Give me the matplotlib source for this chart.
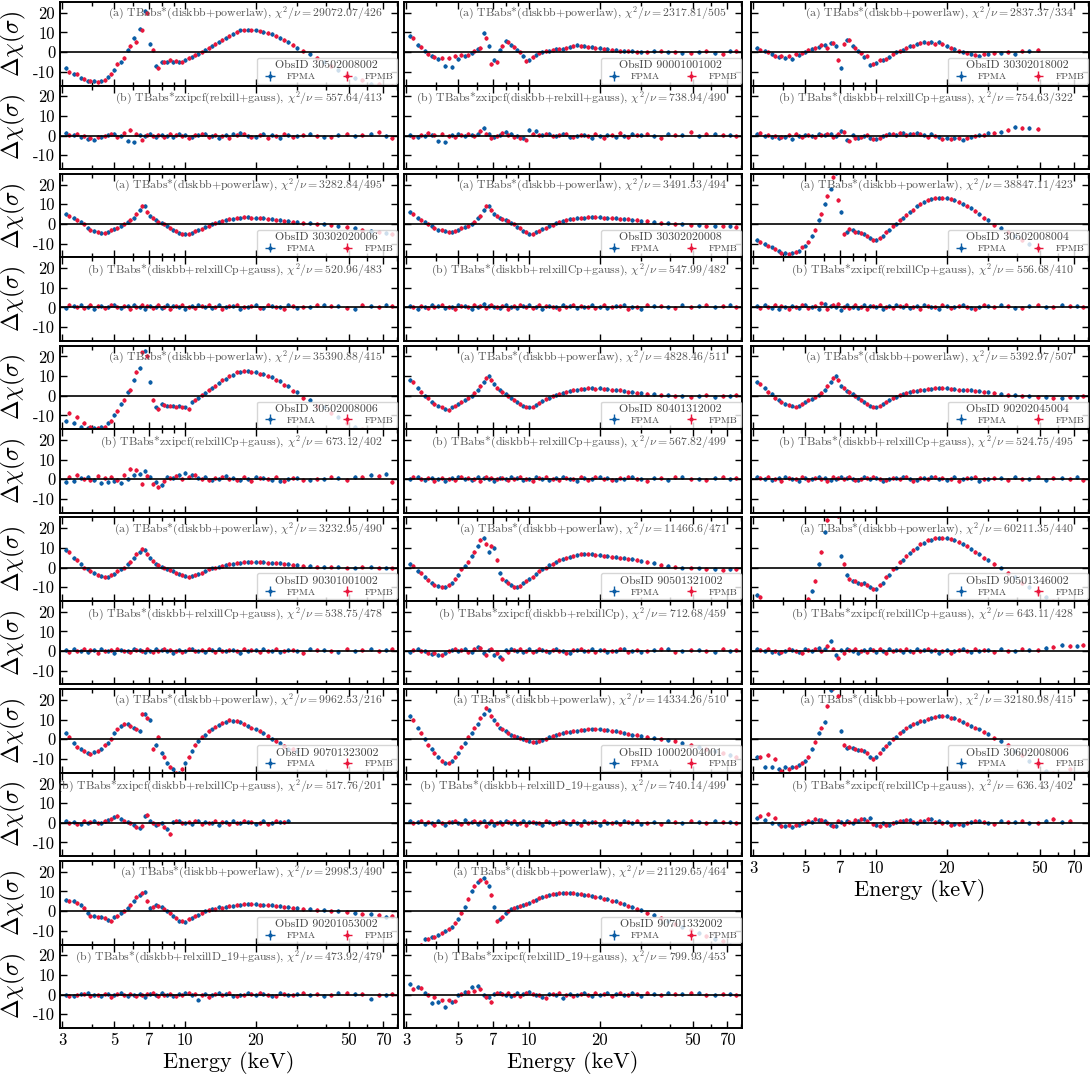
import numpy as np
import matplotlib
matplotlib.use('Agg')
import matplotlib.pyplot as plt
from matplotlib.ticker import FixedLocator, NullFormatter

plt.rcParams['font.family'] = 'serif'
plt.rcParams['font.serif'] = ['cmr10', 'DejaVu Serif']
plt.rcParams['mathtext.fontset'] = 'cm'
plt.rcParams['axes.unicode_minus'] = False

# energy grids (keV) for FPMA and FPMB residual points
energy_A = [3.1, 3.35, 3.6, 3.85, 4.1, 4.4, 4.7, 5.0, 5.35, 5.7, 6.05, 6.4, 6.75, 7.1, 7.5, 7.95,
            8.4, 8.9, 9.45, 10.0, 10.7, 11.4, 12.2, 13.0, 13.9, 14.9, 16.0, 17.2, 18.5, 20.0, 21.6,
            23.4, 25.4, 27.6, 30.0, 34.0, 39.0, 45.0, 53.0, 62.0, 72.0]
energy_B = [3.2, 3.45, 3.7, 3.95, 4.25, 4.55, 4.85, 5.15, 5.5, 5.85, 6.2, 6.55, 6.9, 7.3, 7.7, 8.15,
            8.65, 9.15, 9.7, 10.35, 11.0, 11.8, 12.6, 13.45, 14.4, 15.4, 16.6, 17.8, 19.2, 20.8, 22.5,
            24.4, 26.5, 28.8, 32.0, 36.5, 42.0, 49.0, 57.0, 67.0, 76.0]

obsids = ['30502008002', '90001001002', '30302018002', '30302020006', '30302020008', '30502008004',
          '30502008006', '80401312002', '90202045004', '90301001002', '90501321002', '90501346002',
          '90701323002', '10002004001', '30602008006', '90201053002', '90701332002']
model_a = 'TBabs*(diskbb+powerlaw)'
chi_a = ['29072.07/426', '2317.81/505', '2837.37/334', '3282.84/495', '3491.53/494', '38847.11/423',
         '35390.88/415', '4828.46/511', '5392.97/507', '3232.95/490', '11466.6/471', '60211.35/440',
         '9962.53/216', '14334.26/510', '32180.98/415', '2998.3/490', '21129.65/464']
model_b = ['TBabs*zxipcf(relxill+gauss)', 'TBabs*zxipcf(diskbb+relxill+gauss)',
           'TBabs*(diskbb+relxillCp+gauss)', 'TBabs*(diskbb+relxillCp+gauss)',
           'TBabs*(diskbb+relxillCp+gauss)', 'TBabs*zxipcf(relxillCp+gauss)',
           'TBabs*zxipcf(relxillCp+gauss)', 'TBabs*(diskbb+relxillCp+gauss)',
           'TBabs*(diskbb+relxillCp+gauss)', 'TBabs*(diskbb+relxillCp+gauss)',
           'TBabs*zxipcf(diskbb+relxillCp)', 'TBabs*zxipcf(relxillCp+gauss)',
           'TBabs*zxipcf(diskbb+relxillCp+gauss)', 'TBabs*(diskbb+relxillD_19+gauss)',
           'TBabs*zxipcf(relxillCp+gauss)', 'TBabs*(diskbb+relxillD_19+gauss)',
           'TBabs*zxipcf(relxillD_19+gauss)']
chi_b = ['557.64/413', '738.94/490', '754.63/322', '520.96/483', '547.99/482', '556.68/410',
         '673.12/402', '567.82/499', '524.75/495', '538.75/478', '712.68/459', '643.11/428',
         '517.76/201', '740.14/499', '636.43/402', '473.92/479', '799.93/453']

# residuals (sigma): aA/aB = panel (a) FPMA/FPMB, bA/bB = panel (b)
p01_aA = [-8, -11, -13, -14.5, -14.5, -14.5, -12.5, -9, -5, 1, 7, 12, 21, 4, -7, -5, -5, -5, -5, -4, -2.5,
          -1, 1, 3, 5, 7, 9, 11, 11.5, 11, 10, 9, 7, 5, 2, -1, -5, -9, -13, -16, -18]
p01_aB = [-10, -11, -13.5, -14.5, -15, -14, -11, -6, -3, 3, 5, 11, 20, 1, -8, -5, -4, -4.5, -5, -3, -1.5,
          0, 2, 4, 6, 8, 10, 11, 11, 10.5, 9.5, 8, 6, 3.5, 0.5, -3, -7, -11, -14, -16, -17]
p01_bA = [1.5, 0.5, -0.5, -1.5, -2, -0.5, 0.5, 1, 0, -2.5, -3.5, 0.5, 0, 1, -0.5, 0.5, 0, -0.5, 1, 0.5,
          -0.5, 0.5, 1, 0, -1, 0.5, 1, 1.5, 0, -0.5, 1, 0.5, -1, 0.5, 0, 1, -0.5, 0.5, 0, 1, 0]
p01_bB = [0.5, 1, 0, -1, -0.5, 0, 1, -0.5, 1.5, 3, 1, -2, 0.5, 0, 0.5, -0.5, 1, 0.5, 0, -1, 0.5, 1,
          -0.5, 0.5, 0, -1, 0.5, 1, -0.5, 0.5, -1, 0, 1, -0.5, 0.5, 0, -0.5, 1, 0.5, 2, -1]

p02_aA = [8, 3.5, 0.5, -2, -3.5, -7, -7.5, -3.5, -2, -0.5, 1.5, 9.5, 3, -4, 1, 5.5, 3.5, 1, -2, -4, -1.5,
          0, 0.5, 1.5, 1.5, 2.5, 3.5, 3, 2.5, 2, 1.5, 1, 0.5, 0.5, 0, 0.5, 0, -0.5, 0, -0.5, 0.5]
p02_aB = [7, 2.5, -1, -2.5, -3, -3, -2, -1.5, -1.5, 0.5, 2, 7, -6, -5, 3, 5, 2.5, 0, -4.5, -2.5, -0.5,
          0.5, 1, 1.5, 2, 3, 3, 2.5, 2, 1.5, 1, 0.5, 0.5, 0, 0, 0.5, 0, -0.5, 0.5, -1, 0.5]
p02_bA = [0.5, -0.5, 0, 0.5, -3, -3.5, 0.5, 1, 0, 0.5, 1, 4, 1, -0.5, 0.5, 2, 1, 0, -1, 3, 2.5, 0.5,
          1, 0, 1, -0.5, 0, 0.5, -1, 0, 0.5, -0.5, 0, 1, 0.5, 0, 1, 0.5, 0, 1, 0.5]
p02_bB = [-0.5, 0.5, 1.5, 0.5, 1, 0, -0.5, 0.5, 1, 0, 2.5, 1, -1, 0, 1.5, 0.5, -0.5, -1, -2, 1, 0.5,
          1, 0, 0.5, 1, -0.5, 0.5, 0, 1, -1, 0.5, 1.5, -0.5, 0.5, 1, -1, 0.5, 2, 1, 0.5, 0]

p03_aA = [2, 0.5, -1, -2.5, -3, -3.5, -1.5, 0, 1.5, 2.5, 3.5, 4.5, 3, -8, 6, 3, 0.5, -2.5, -6.5, -5.5,
          -4, -2.5, 0, 1, 3, 4, 5, 5, 5, 3, 1.5, 0, -1, -2, -1, -0.5, -1, 0.5]
p03_aB = [1, 0, -2, -2, -2, -1, -0.5, 1, 2, 3.5, 2, 4.5, -4, 4, 6, 2, -0.5, -2, -6, -4, -3.5, -1,
          0.5, 2, 3, 4.5, 4.5, 4, 4, 2, 0.5, -0.5, -1.5, -1, -0.5, 0, 0.5, 1]
p03_bA = [1, 0, -0.5, -1, -0.5, -1.5, 0, 0.5, 0, 1, 0.5, 1, 0, 2.5, -2, 0.5, -1, 0, -1, -1.5, 0, 1,
          0.5, 1.5, 1, 1.5, 0.5, 1, -0.5, -1, -1, -2, -0.5, 0.5, 1.5, 2, 4.5, 4]
p03_bB = [1.5, 0.5, 0, -0.5, 0.5, 1, -0.5, 0.5, -0.5, 0.5, 1, -0.5, 1, 2, -2.5, -1, -0.5, 0.5, -1.5,
          -1, 0.5, 1, 1.5, 0.5, 1, 1, -0.5, 0, -1.5, -1.5, -1, -1, 0, 0.5, 1.5, 3, 4, 3.5]

p04_aA = [5, 3, 1, -2, -3.5, -4.5, -4, -2.5, -1, 1, 3, 7, 9, 4, 2, 0.5, -1, -3, -4.5, -5, -4.5, -3,
          -1.5, 0, 1, 2, 2.5, 3, 3.5, 3, 3, 2.5, 2, 1.5, 1, 0.5, 0, -1, -2, -3.5, -4.5]
p04_aB = [4, 2, 0, -3, -4, -4.5, -3, -2, 0, 2, 5, 9, 6, 3, 1, 0, -2, -3.5, -5, -5, -3.5, -2.5, -1,
          0.5, 1.5, 2.5, 3, 3.5, 3, 3, 2.5, 2, 1.5, 1, 0.5, 0, -0.5, -1.5, -3, -4, -5]
p04_bA = [-0.5, 0.5, 1, 0, -1, 0.5, 0, 1, -0.5, 0.5, 1, 0, -1, 0.5, 0, -0.5, 1, 0.5, 0, -1, 0.5, 1,
          0, -0.5, 1, 0, 0.5, -1, 0, 1, -0.5, 0.5, 0, 1, -0.5, 0, 1, 0.5, -1, 0.5, 1]
p04_bB = [1, 0, -0.5, 1, 0.5, -0.5, 1, 0, 0.5, -1, 0, 1, 0.5, -0.5, 1, 0, -1, 0.5, 1, 0, -0.5, 0.5,
          1, 0, -1, 0.5, 1, 0, 0.5, -0.5, 1, 0, -1, 0.5, 0, 1, 0.5, -0.5, 1, 0, 0.5]

p05_aA = [6, 3, 1, -1, -3, -3.5, -4, -3, -1.5, 0, 3, 7, 9, 5, 3, 2, 0.5, -1.5, -3.5, -5, -4, -2.5,
          -1, 0.5, 1.5, 2.5, 3, 3, 3.5, 3.5, 3, 3, 2.5, 2, 1.5, 1, 0.5, 0, -0.5, -1, -1]
p05_aB = [5, 2, 0, -2, -3, -4, -3.5, -2, -1, 1, 4, 9, 7, 4, 2.5, 1.5, 0, -2, -4, -5, -3.5, -2, -0.5,
          1, 2, 2.5, 3, 3.5, 3.5, 3, 3, 2.5, 2.5, 2, 1.5, 0.5, 0, -0.5, -1, -1, -1.5]
p05_bA = [0.5, -1, 0, 1, 0.5, -0.5, 0, 1, 0.5, -1, 0, 1.5, 0.5, 0, -0.5, 1, 0, -0.5, 0.5, 1, 0, -1,
          0.5, 0, 1, 0.5, -0.5, 0, 1, 0, -0.5, 0.5, 1, 0, -1, 0.5, 0, 1, 0.5, 0, 1]
p05_bB = [0, 0.5, -0.5, 0, 1, 0, -1, 0.5, 0, 1, 0.5, -0.5, 1, 0, 0.5, -1, 0.5, 1, 0, -0.5, 1, 0.5,
          0, -1, 0, 1, 0.5, 0, -0.5, 1, 0, 0.5, -1, 0, 1, 0.5, -0.5, 0, 1, 0.5, 0]

p06_aA = [-8, -10, -12, -14, -15, -15, -14, -11, -6, 2, 10, 18, 26, 6, -4, -3, -4, -5, -7, -8, -6,
          -3, 0, 3, 6, 9, 11, 12.5, 13, 13, 12, 10, 8, 5, 2, -2, -6, -10]
p06_aB = [-9, -11, -13, -15, -15.5, -14.5, -12, -9, -3, 5, 14, 24, 12, -5, -2.5, -4, -4.5, -6, -8,
          -7, -4, -1, 2, 4.5, 7, 10, 12, 13, 13, 12.5, 11, 9, 6.5, 3, -0.5, -4, -8]
p06_bA = [0.5, 1, -0.5, -1, 0, 0.5, -0.5, 1, 0, -1, 1.5, 0.5, 0, -1.5, 1, 0, -0.5, 1, 0.5, 0, -1,
          0.5, 1, 0, -0.5, 0.5, 1, 0, -1, 0.5, 0, 1, -0.5, 0, 0.5, 1, -0.5, 0.5, 0, 1, 0.5]
p06_bB = [-0.5, 0, 1, 0.5, -1, 0, 1, -0.5, 0.5, 2, -1, 1, 1.5, 0, -0.5, 1, 0, -1, 0.5, 1, 0, -0.5,
          0.5, 1, 0, -1, 0.5, 0, 1, -0.5, 0.5, 0, -1, 1, 0, 0.5, -0.5, 1, 0, 0.5, 0]

p07_aA = [-13, -14, -16, -16.5, -16.5, -16, -14, -10, -4, 2, 8, 14, 23, 7, -6, -4, -5, -5, -5, -6,
          -3, -1, 1.5, 4, 6.5, 8.5, 10.5, 12, 12.5, 12, 11, 9.5, 7.5, 5, 2, -2, -6, -11, -16, -18, -19]
p07_aB = [-9, -11, -14, -16, -16.5, -16, -13, -8, -2, 3, 12, 22, 20, -2, -7, -4.5, -5, -5.5, -6, -7,
          -2, 0.5, 3, 5, 8, 10, 12, 12.5, 12, 11, 10, 8, 5.5, 2.5, -1, -5, -9, -14, -17, -18, -19]
p07_bA = [-1.5, -1, 0.5, 1, -0.5, -2, -1.5, -1, -2, 0, 2, 2.5, 4, 1, -1.5, -3, 1, 0.5, 2, 3, 2, 0.5,
          1, -0.5, 0, 1.5, 0.5, -0.5, 0, 1, 0.5, -0.5, -1, 0, 0.5, -0.5, 0, 0.5, 1, 2, 2.5]
p07_bB = [1, 2, 0, -0.5, 1.5, 0.5, 1, -0.5, 2, 5, 4.5, -2.5, 1.5, -2.5, -4, -1, 0.5, 1.5, 0, 1, 2,
          0, -0.5, 0.5, 1, 0, -0.5, 1, -1, 0.5, 0, 1, -1, 0.5, -0.5, 0, 1, -0.5, 1, 1.5, -1.5]

p08_aA = [8, 4, 0, -3, -5, -7, -6, -4, -2, 0, 3, 7, 10, 6, 3, 1, -1, -3, -5, -6, -4.5, -2.5, -1, 0.5,
          1.5, 2.5, 3, 3.5, 4, 4, 3.5, 3, 2.5, 2, 1.5, 1, 0.5, 0, 0, -0.5, 0]
p08_aB = [7, 2, -1, -4, -6, -7.5, -5, -3, -1, 1.5, 5, 9, 8, 4, 2, 0, -2, -4, -5.5, -5.5, -3.5, -1.5,
          0, 1, 2, 3, 3.5, 4, 3.5, 3.5, 3, 3, 2, 1.5, 1, 0.5, 0, -0.5, 0.5, 0, 0.5]
p08_bA = [0, 1, -0.5, 0.5, 0, -1, 0.5, 1, 0, -0.5, 1, 0.5, 0, -1, 0.5, 0, 1, 0.5, -0.5, 0, 1, 0, -0.5,
          0.5, 1, 0, -1, 0.5, 0, 1, 0.5, -0.5, 0, 1, 0, 0.5, -0.5, 1, 0, 0.5, 0]
p08_bB = [1, 0, 0.5, -1, 0.5, 0, -0.5, 1, 0.5, 0, -1, 1, 0.5, 0, 0.5, -0.5, 0, 1, 0, -1, 0.5, 1, 0,
          -0.5, 0.5, 0, 1, -0.5, 1, 0, -0.5, 0.5, 1, 0, -1, 0.5, 1, 0, -0.5, 1, 0.5]

p09_aA = [7, 4, 1, -2, -4, -5, -5, -3, -1.5, 0.5, 3, 7, 10, 5, 2.5, 1, -1, -3, -5, -6, -4, -2, -0.5,
          1, 2, 2.5, 3, 3.5, 4, 4, 3.5, 3, 3, 2.5, 2, 1, 0.5, 0, -0.5, -1, -0.5]
p09_aB = [6, 2, -1, -3, -4.5, -5.5, -4, -2, -0.5, 1.5, 5, 9, 8, 4, 2, 0, -2, -4, -5.5, -5, -3, -1,
          0.5, 1.5, 2.5, 3, 3.5, 4, 4, 3.5, 3, 3, 2.5, 2, 1.5, 0.5, 0, -0.5, -1, -0.5, 0]
p09_bA = [1, 0, -0.5, 0.5, 1, 0, -1, 0.5, 0, 1, 0.5, -0.5, 0, 1, 0.5, 0, -0.5, 1, 0, 0.5, -1, 0, 0.5,
          1, 0, -0.5, 0.5, 1, 0, -0.5, 1, 0, 0.5, -1, 0, 0.5, 1, 0, -0.5, 0.5, 1]
p09_bB = [0.5, 1, 0, -1, 0.5, 0, 1, -0.5, 0.5, 0, -1, 1, 0.5, 0, 1, -0.5, 0, 0.5, 1, 0, -0.5, 0.5, 0,
          1, -1, 0.5, 0, 1, 0.5, 0, -1, 0.5, 1, 0, 0.5, -0.5, 0, 1, 0.5, 0, -0.5]

p10_aA = [9, 5, 2, -1, -3, -4.5, -5, -3.5, -1, 2, 5, 8, 9, 5, 2, 0.5, -1, -2, -3.5, -4.5, -4.5, -3.5,
          -2, -0.5, 0.5, 1.5, 2, 2.5, 3, 3, 3, 2.5, 2.5, 2, 1.5, 1, 0.5, 0.5, 0, 0.5, 0]
p10_aB = [8, 4, 0, -2, -4, -5, -4, -2, 0, 3, 7, 9.5, 7, 3.5, 1.5, 0, -1.5, -3, -4, -5, -4, -3, -1, 0,
          1, 2, 2.5, 3, 3, 3, 2.5, 2.5, 2, 1.5, 1, 0.5, 0.5, 0, 0.5, 0, -0.5]
p10_bA = [0.5, 1, 0, -0.5, 0.5, 1, 0, -1, 0.5, 0, 1, 0.5, -0.5, 0, 1, 0.5, 0, -1, 0.5, 0, 1, 0, -0.5,
          0.5, 1, 0, 0.5, -1, 0, 0.5, 1, 0, -0.5, 0.5, 0, 1, 0.5, -0.5, 0, 1, 0.5]
p10_bB = [-0.5, 0, 1, 0.5, -1, 0, 0.5, 1, 0, -0.5, 0.5, 0, 1, -0.5, 0, 1, 0.5, 0, -0.5, 1, 0, 0.5, 1,
          -0.5, 0, 0.5, 0, 1, 0.5, -0.5, 0, 1, 0, 0.5, -1, 0.5, 0, 1, 0.5, 0, 1]

p11_aA = [2, -2, -5, -8, -9.5, -10, -8, -4, 1, 6, 11, 15, 8, 10, -3, -7, -9, -10, -8, -6, -3.5, -1,
          1.5, 3, 4.5, 5.5, 6.5, 7, 7, 6.5, 6, 5.5, 5, 4.5, 3.5, 2.5, 1, 0, -0.5, -1, -1]
p11_aB = [1, -3, -6.5, -9, -10, -9, -6, -1, 3, 8, 14, 12, 11, 4, -6, -8, -10, -9.5, -7, -5, -2, 0, 2,
          4, 5, 6, 7, 7, 6.5, 6, 5.5, 5, 4.5, 4, 3, 1.5, 0.5, 0, -1, -1.5, -1]
p11_bA = [-0.5, 1, 0, -1.5, -2, -1, 0.5, 0, 1, -0.5, 2, -1, 0.5, -2, -3, 0.5, 1, 0, -0.5, 1, 0, 0.5,
          -0.5, 1, 0, -1, 0.5, 0, 1, 0.5, -0.5, 0, 1, 0, -0.5, 0.5, 1, 0, 0.5, -0.5, 0]
p11_bB = [0.5, 0, -1, -1, -2, 0, 1, 0.5, -0.5, 1, 1.5, -2, 1, -1, -4, -0.5, 0.5, 1, 0, -0.5, 1, 0,
          0.5, 0, -1, 0.5, 1, 0, -0.5, 0.5, 0, 1, -0.5, 0.5, 0, 1, -0.5, 0.5, 0, 1, 0.5]

p12_aA = [-14, -18, -20, -20, -20, -20, -20, -19, -12, 2, 18, 28, 28, 6, -4, -7, -8, -8, -10, -11,
          -8, -4, 0, 4, 7.5, 10, 12.5, 14, 15, 15, 14, 12, 9.5, 7, 4, 0, -5, -10, -15, -19, -20]
p12_aB = [-15, -19, -20, -20, -20, -20, -20, -16, -7, 8, 24, 28, 26, 2, -6, -7, -8.5, -9, -11, -9, -5,
          -1, 3, 6, 9, 12, 14, 15, 15, 14.5, 13, 11, 8, 5, 2, -3, -8, -13, -17, -20, -20]
p12_bA = [1, 0, -0.5, -1, 0, 0.5, -0.5, 1, 0, 1.5, 1, 5, -2, 0.5, 1, 0, -1, 0.5, 1, -0.5, 0, 1, 0.5,
          -0.5, 0, 1, 0.5, 0, -1, 0.5, 0, 1, -0.5, 0, 0.5, 1, 0, 0.5, 1.5, 3, 2.5]
p12_bB = [0.5, 1, 0, -0.5, 1, 0, -1, 0.5, 1, 0, 2.5, 1, -3.5, -1, 0.5, 1, 0, -0.5, 0.5, 1, -1, 0, 0.5,
          1, -0.5, 0, 1, 0.5, 0, -1, 0.5, 0, 1, 0.5, -0.5, 0, 1, 0.5, 2, 2.5, 3]

p13_aA = [3, -2, -5, -7, -6.5, -5, -2, 3, 7, 8, 6, 4, 13, 10, -3, -7, -12, -15, -17, -12, -6, -1, 2,
          5, 7.5, 9, 9.5, 9, 7, 5, 3, 0, -2, -5, -6]
p13_aB = [1, -4, -6, -7.5, -6, -3, 0, 5, 8, 7, 5, 13, 11, -5, 1, -9, -14, -17, -15, -9, -3, 1, 4,
          6.5, 8.5, 10, 9.5, 8, 6, 4, 1.5, -1, -3.5, -5]
p13_bA = [1, 0.5, -0.5, 0, 1, 0, 1.5, 3, 2, 0.5, -1, -2.5, 3.5, 1, -1, 0, -3, 0.5, 1, 0, -0.5, 1, 0.5,
          0, -1, 0.5, 1, 0, 0.5, -0.5, 1, 0, 0.5, 1]
p13_bB = [0, -0.5, 1, 0.5, 0, 1, 2, 3.5, 1, 0, -2, -1.5, 4, 0, -0.5, -2, -5.5, 1, 0, 0.5, 1, -0.5, 0,
          1, 0.5, -0.5, 0, 1, 0.5, 0, -0.5, 1, 0.5]

p14_aA = [12, 6, 0, -5, -9, -12, -11, -7, -2, 3, 8, 13, 15, 10, 6, 4, 2, 1, 0, -1, -1.5, -0.5, 1, 2,
          3, 3.5, 4, 4.5, 5, 5, 4.5, 4, 3, 2, 1.5, 0.5, -0.5, -2, -4, -6, -8]
p14_aB = [10, 3, -3, -7, -11, -12, -9, -4, 1, 6, 11, 16, 12, 8, 5, 3, 1.5, 0.5, -0.5, -1.5, -1, 0,
          1.5, 2.5, 3.5, 4, 4.5, 5, 5, 4.5, 4, 3.5, 2.5, 2, 1, 0, -1, -3, -5, -7, -9]
p14_bA = [1, 0.5, -0.5, 0, 1, -1, 0.5, 0, 1.5, 0.5, -0.5, 1, 0, -1, 0.5, 1, 0, -0.5, 1, 0.5, 0, -1,
          0.5, 0, 1, -0.5, 0, 1, 0.5, -1, 0, 0.5, 1, 0, -0.5, 0.5, 1, 0, 0.5, 1, 0.5]
p14_bB = [0, 1, 0.5, -1, 0, 0.5, 1, -0.5, 0, 1, 0.5, -1.5, 1, 0, -0.5, 0.5, 1, 0, -1, 0.5, 0, 1, -0.5,
          0.5, 0, 1, -1, 0, 0.5, 1, 0, -0.5, 0.5, 1, 0, -0.5, 0.5, 1, 0, 0.5, 0]

p15_aA = [-9, -14, -14, -15, -14, -14, -13, -11, -5, 3, 9, 25, 28, 4, -4.5, -4.5, -5.5, -6, -9, -9,
          -5, -2, 1, 4, 7, 8.5, 9.5, 11, 12, 12, 11, 9, 7, 5, 2.5, -1, -6, -11, -16, -18, -18]
p15_aB = [-9, -8, -10, -16, -15, -14, -12, -9, -1.5, 6, 17, 26, 22, -3, -4, -5, -5.5, -7, -10, -7,
          -3.5, 0, 3, 5.5, 8, 9.5, 10.5, 11.5, 12, 11, 10, 8, 6, 3.5, 0.5, -3, -8, -13, -17, -15, -17]
p15_bA = [2.5, 1.5, 0, -0.5, -1.5, -2, -1, 0, 0.5, 1.5, 1, -1, -1.5, 0.5, 1, 0, 1, 2, 2.5, -1, 0, -1,
          0.5, 1, 1.5, 0, 1, 2, 1, 0.5, -0.5, -1, 0.5, 1, 0, 1, 0.5, 0, 1, 0.5]
p15_bB = [3.5, 4.5, 2.5, -1.5, -1, -1, 0, 1, 2, 1.5, 0, -1.5, 1, -0.5, 0.5, 1.5, 2, 1, -0.5, -1.5, -1,
          0, 1, 1.5, 0.5, 1, 2, 0.5, 0, -1, -0.5, 0, 1, 0.5, -0.5, 0.5, 1, 0, 2, 1]

p16_aA = [5.5, 5, 3, -1, -2.5, -3, -4.5, -3, -1, 1.5, 5, 8, 9.5, 1.5, 3, 2, 0, -2.5, -5, -5.5, -3.5,
          -2, 0, 1, 2, 2, 2.5, 3, 3.5, 3.5, 3, 3, 2.5, 2, 1.5, 1, 0.5, 0, -1, -1.5, -3]
p16_aB = [5, 4, 1.5, -2.5, -3, -3.5, -5, -2.5, 0, 3, 7, 9, 5, 2, 2.5, 1, -1, -3.5, -5, -4, -2.5, -1,
          0.5, 1, 1.5, 2.5, 3, 3.5, 3.5, 3, 3, 2.5, 2, 1.5, 1, 0.5, 0, -0.5, -1.5, -2, -2.5]
p16_bA = [0, -0.5, 0.5, 1, 0, -0.5, 0.5, 0, 1, -0.5, 0, 0.5, -1, 0.5, 0, 1, 0, -0.5, 0.5, 1, 0, -2.5,
          0.5, 0, 1, 0.5, -0.5, 0, 1, 0, 0.5, -0.5, 1, 0, 0.5, 0, -0.5, 1, 0.5, -2, 0]
p16_bB = [-0.5, 0, 0.5, -0.5, 0, 0.5, -1, 0.5, 0, 0.5, -0.5, 0, 0.5, 1, -0.5, 0, 0.5, -0.5, 0, 1, 0.5,
          0, -1, 0.5, 0, 1, -0.5, 0, 0.5, 1, 0, -0.5, 0.5, 0, 1, 0.5, 0, 1, 0.5, 0, 0.5]

p17_aA = [-20, -18, -14, -13, -12, -10, -8, -4, 2, 10, 15, 17, 13, 2, -4, -1, 1, 2, 3, 4, 5.5, 7, 8,
          8.5, 9, 9, 8.5, 8, 7.5, 7, 6, 5, 3.5, 2, 0.5, -2, -5, -8, -11, -14, -17]
p17_aB = [-20, -17, -14, -13, -11, -9, -6, -1, 6, 13, 16, 15, 8, -5, -3, 0, 1.5, 2.5, 3.5, 5, 6.5,
          7.5, 8.5, 9, 9, 9, 8.5, 8, 7, 6, 5, 4, 2.5, 1, -1, -3.5, -6.5, -9.5, -12.5, -15, -18]
p17_bA = [5.5, 4, 1, -4.5, -4, -6.5, -4, 0, 1.5, 4, 4.5, 0, -1, 0.5, 1, 0, -0.5, 1, 0.5, 1.5, 0, -1,
          0.5, 0, -1.5, 0.5, 0, 1, -0.5, 0, 1, 0.5, 0, 1, -0.5, 0.5, 1, 0.5, 1, 0, 0.5]
p17_bB = [3, 3.5, 0, -1, -3, -3, -3.5, 0.5, 1.5, 2, 3, -1, -4, 1, 0.5, 1, 0, -0.5, 1, 0.5, 0, -1.5,
          0.5, 1, 0, -0.5, 0.5, 0, 1, 0.5, -0.5, 1, 0, 0.5, 1, 0, 0.5, 1, 0, 0.5, 0]

res = [(p01_aA, p01_aB, p01_bA, p01_bB), (p02_aA, p02_aB, p02_bA, p02_bB),
       (p03_aA, p03_aB, p03_bA, p03_bB), (p04_aA, p04_aB, p04_bA, p04_bB),
       (p05_aA, p05_aB, p05_bA, p05_bB), (p06_aA, p06_aB, p06_bA, p06_bB),
       (p07_aA, p07_aB, p07_bA, p07_bB), (p08_aA, p08_aB, p08_bA, p08_bB),
       (p09_aA, p09_aB, p09_bA, p09_bB), (p10_aA, p10_aB, p10_bA, p10_bB),
       (p11_aA, p11_aB, p11_bA, p11_bB), (p12_aA, p12_aB, p12_bA, p12_bB),
       (p13_aA, p13_aB, p13_bA, p13_bB), (p14_aA, p14_aB, p14_bA, p14_bB),
       (p15_aA, p15_aB, p15_bA, p15_bB), (p16_aA, p16_aB, p16_bA, p16_bB),
       (p17_aA, p17_aB, p17_bA, p17_bB)]

xticks = [3, 5, 7, 10, 20, 50, 70]
xminor = [4, 6, 8, 9, 30, 40, 60, 80]
yticks = [-10, 0, 10, 20]

c_a = '#0C5DA5'
c_b = '#E8173C'
txtcol = '#555555'

W, H = 1091, 1076
fig = plt.figure(figsize=(W / 100, H / 100), dpi=100)

col_left = [60, 404, 751]
col_w = 338
top0 = 2
pitch = 171.8
ph = 83.5


def draw(ax, eA, eB, vA, vB):
    nA = min(len(eA), len(vA))
    nB = min(len(eB), len(vB))
    xa = np.array(eA[:nA]); xb = np.array(eB[:nB])
    hA = ax.errorbar(xa, vA[:nA], yerr=1.0, xerr=0.013 * xa, fmt='o', ms=3.0, color=c_a,
                     elinewidth=1.0, capsize=0, mew=0, label='FPMA')
    hB = ax.errorbar(xb, vB[:nB], yerr=1.0, xerr=0.013 * xb, fmt='o', ms=3.0, color=c_b,
                     elinewidth=1.0, capsize=0, mew=0, label='FPMB')
    ax.axhline(0, color='k', lw=1.2, zorder=3)
    return hA, hB


def style(ax, col, show_x):
    ax.set_xscale('log')
    ax.set_xlim(2.93, 81)
    ax.set_ylim(-17, 25.5)
    ax.xaxis.set_major_locator(FixedLocator(xticks))
    ax.xaxis.set_minor_locator(FixedLocator(xminor))
    ax.xaxis.set_minor_formatter(NullFormatter())
    ax.set_yticks(yticks)
    ax.tick_params(which='both', direction='in', top=True, right=True, width=1.0)
    ax.tick_params(which='major', length=5)
    ax.tick_params(which='minor', length=3)
    for s in ax.spines.values():
        s.set_linewidth(1.4)
    if show_x:
        ax.set_xticklabels([str(t) for t in xticks], fontsize=12)
        ax.set_xlabel('Energy (keV)', fontsize=16, labelpad=2)
    else:
        ax.set_xticklabels([])
    if col == 0:
        ax.set_yticklabels([str(t) for t in yticks], fontsize=12)
        ax.set_ylabel(r'$\Delta\chi(\sigma)$', fontsize=17, labelpad=4)
    else:
        ax.set_yticklabels([])


def label(model):
    # cmr10 has no underscore glyph, so typeset it through mathtext
    return model.replace('_', r'$\_$')


nrows = [6, 6, 5]
for i in range(17):
    r, c = divmod(i, 3)
    aA, aB, bA, bB = res[i]
    top = top0 + pitch * r
    left = col_left[c] / W
    axa = fig.add_axes([left, 1 - (top + ph) / H, col_w / W, ph / H])
    axb = fig.add_axes([left, 1 - (top + 2 * ph) / H, col_w / W, ph / H])
    last = (r == nrows[c] - 1)

    hA, hB = draw(axa, energy_A, energy_B, aA, aB)
    draw(axb, energy_A, energy_B, bA, bB)
    style(axa, c, False)
    style(axb, c, last)

    axa.text(0.955, 0.86, '(a) ' + model_a + r', $\chi^2/\nu = ' + chi_a[i] + '$',
             transform=axa.transAxes, ha='right', va='center', fontsize=8.5, color=txtcol)
    axb.text(0.955, 0.84, '(b) ' + label(model_b[i]) + r', $\chi^2/\nu = ' + chi_b[i] + '$',
             transform=axb.transAxes, ha='right', va='center', fontsize=8.5, color=txtcol)
    leg = axa.legend(handles=[hA, hB], labels=['FPMA', 'FPMB'], loc='lower right', ncol=2,
                     title='ObsID ' + obsids[i], fontsize=7, title_fontsize=8.5,
                     frameon=True, framealpha=0.8, edgecolor='#cccccc', borderaxespad=0.15,
                     columnspacing=2.2, handletextpad=0.8, borderpad=0.3, labelspacing=0.2,
                     fancybox=True)
    leg.get_title().set_color('#444444')
    for t in leg.get_texts():
        t.set_color('#444444')

fig.savefig('out.png', dpi=100)
